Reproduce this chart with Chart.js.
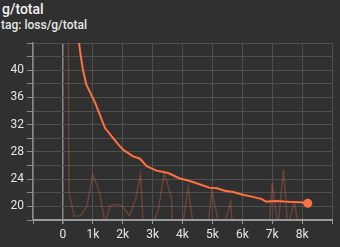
<!DOCTYPE html>
<html>
<head>
<meta charset="utf-8">
<script src="https://cdn.jsdelivr.net/npm/chart.js@4"></script>
<style>
  html, body { margin: 0; padding: 0; background: #303030; }
  #wrap { position: relative; width: 340px; height: 247px; overflow: hidden; font-family: Roboto, sans-serif; }
  #title { position: absolute; left: 2px; top: 1px; color: #f2f2f2; font-size: 14px; font-weight: 500; }
  #tag { position: absolute; left: 1px; top: 18px; color: #e8e8e8; font-size: 12px; font-weight: 500; }
  #chartBox { position: absolute; left: 0; top: 0; width: 340px; height: 247px; }
</style>
</head>
<body>
<div id="wrap">
  <div id="title">g/total</div>
  <div id="tag">tag: loss/g/total</div>
  <div id="chartBox"><canvas id="chart"></canvas></div>
</div>
<script>
// ------------------------------------------------
// Data
// ------------------------------------------------
const rawSteps = [150, 200, 380, 580, 800, 1000, 1220, 1410, 1580, 1800, 2000, 2220, 2440, 2600, 2690,
  3020, 3190, 3390, 3630, 3670, 4000, 4190, 4360, 4850, 4980, 5240, 5410, 5610, 5670,
  6900, 7000, 7190, 7380, 7520, 7740, 7880, 8190];
const rawValues = [90, 22, 18.6, 18.6, 20, 24.7, 22.2, 17.5, 20.1, 20.3, 20, 18.6, 21.2, 24.8, 17,
  17.5, 19.5, 24.9, 21.2, 17, 17, 22.9, 17, 17, 22.3, 17, 17.5, 20.7, 17,
  17, 23.4, 17, 25.4, 17, 20.7, 17, 17];

const smoothSteps = [150, 450, 540, 580, 670, 780, 1080, 1410, 1850, 2020, 2350, 2580, 2800, 3130, 3520,
  3910, 4190, 4470, 4910, 5130, 5410, 5690, 6020, 6350, 6630, 6800, 7130, 7410, 7630, 7970, 8190];
const smoothValues = [90, 60, 44, 42.6, 40.1, 37.9, 35.2, 31.5, 29.1, 28.3, 27.35, 27.0, 25.9, 25.25, 24.9,
  24.1, 23.8, 23.4, 22.75, 22.7, 22.3, 22.1, 21.7, 21.4, 21.1, 20.7, 20.8, 20.7, 20.65, 20.6, 20.45];

const yMin = 18, yMax = 44, yStep = 2;
const xMin = -1000, xMax = 9000, xStep = 1000;

// ------------------------------------------------
// Chart
// ------------------------------------------------
function toPoints(xs, ys) {
  return xs.map((x, i) => ({ x: x, y: ys[i] }));
}

const ctx = document.getElementById('chart');
new Chart(ctx, {
  type: 'line',
  data: {
    datasets: [
      {
        label: 'raw',
        data: toPoints(rawSteps, rawValues),
        borderColor: 'rgba(255, 112, 67, 0.28)',
        borderWidth: 1.5,
        pointRadius: 0,
        tension: 0
      },
      {
        label: 'smoothed',
        data: toPoints(smoothSteps, smoothValues),
        borderColor: '#ff7043',
        backgroundColor: '#ff7043',
        borderWidth: 2,
        tension: 0,
        pointRadius: (c) => (c.dataIndex === smoothSteps.length - 1 ? 4.5 : 0),
        pointBorderWidth: 0
      }
    ]
  },
  options: {
    responsive: true,
    maintainAspectRatio: false,
    animation: false,
    layout: { padding: { top: 43, right: 8, left: 0, bottom: 0 } },
    plugins: {
      legend: { display: false },
      tooltip: { enabled: false }
    },
    scales: {
      x: {
        type: 'linear',
        min: xMin,
        max: xMax,
        ticks: {
          stepSize: xStep,
          maxTicksLimit: 30,
          autoSkip: false,
          color: '#e6e6e6',
          font: { family: 'Roboto', size: 12 },
          padding: 4,
          maxRotation: 0,
          callback: function(value) {
            if (value <= xMin || value >= xMax) return '';
            return value === 0 ? '0' : (value / 1000) + 'k';
          }
        },
        grid: {
          color: (c) => (c.tick && c.tick.value === 0 ? '#8a8a8a' : '#4e4e4e'),
          lineWidth: (c) => (c.tick && c.tick.value === 0 ? 1.5 : 1),
          tickColor: '#9a9a9a',
          tickLength: 4
        },
        border: { color: '#9a9a9a', width: 2 },
        afterFit: function(scale) { scale.height = 27; }
      },
      y: {
        min: yMin,
        max: yMax,
        ticks: {
          stepSize: yStep,
          maxTicksLimit: 30,
          autoSkip: false,
          color: '#e6e6e6',
          font: { family: 'Roboto', size: 12 },
          padding: 3,
          callback: function(value) {
            return value % 4 === 0 && value !== yMax ? String(value) : '';
          }
        },
        grid: {
          color: '#4e4e4e',
          tickColor: '#8a8a8a',
          tickLength: 6
        },
        border: { color: '#8a8a8a', width: 1.5 },
        afterFit: function(scale) { scale.width = 33; }
      }
    }
  }
});
</script>
</body>
</html>
